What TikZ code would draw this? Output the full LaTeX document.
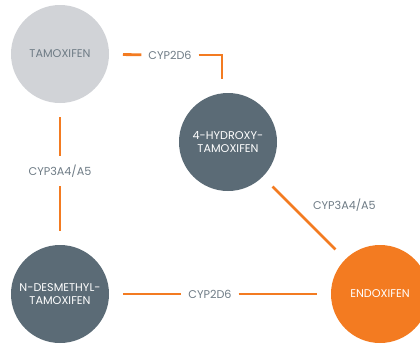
\documentclass[tikz,border=0pt]{standalone}
\usepackage{fontspec}
\setmainfont{Poppins}
\usepackage{tikz}
\usetikzlibrary{calc}
\definecolor{pathorange}{HTML}{F37B21}
\definecolor{slate}{HTML}{5B6B76}
\definecolor{palegray}{HTML}{D1D3D7}
\definecolor{labelgray}{HTML}{6E7B85}
\tikzset{
  drug/.style={circle, minimum size=98pt, inner sep=0pt, outer sep=14pt,
    font=\fontsize{11.2}{13.5}\selectfont, align=center},
  enzyme/.style={text=labelgray, inner xsep=7pt, inner ysep=9pt, outer sep=0pt,
    font=\fontsize{11.2}{13.5}\selectfont},
  link/.style={line width=2.8pt, color=pathorange}
}

\begin{document}
\begin{tikzpicture}[x=1pt, y=-1pt]
			%%%%% START %%%%%
			\useasboundingbox (0, 0) rectangle (420, 343);
			\clip (0, 0) rectangle (420, 343);
			
			\node[drug, fill=palegray, text=labelgray] (tam) at (60, 54) {TAMOXIFEN};
			\node[drug, fill=slate, text=white] (hyd) at (228, 142) {4-HYDROXY-\\TAMOXIFEN};
			\node[drug, fill=slate, text=white] (ndm) at (60, 294) {N-DESMETHYL-\\TAMOXIFEN};
			\node[drug, fill=pathorange, text=white] (endo) at (380, 294) {ENDOXIFEN};
			
			\node[enzyme] (top) at (170, 55) {CYP2D6};
			\node[enzyme] (left) at (60, 171) {CYP3A4/A5};
			\node[enzyme] (bot) at (210, 294) {CYP2D6};
			\coordinate (corner) at (222, 55);
			
			\draw[link] (tam) -- (top);
			\draw[link] (top) -- (corner) -- (corner |- hyd.north);
			
			\draw[link] (tam) -- (left);
			\draw[link] (left) -- (ndm);
			
			\draw[link] (ndm) -- (bot);
			\draw[link] (bot) -- (endo);
			
			\draw[link] (hyd) -- node[enzyme, pos=0.5, anchor=south west, xshift=2pt, yshift=-2pt] {CYP3A4/A5} (endo);
			%%%%% END %%%%%
\end{tikzpicture}
\end{document}
